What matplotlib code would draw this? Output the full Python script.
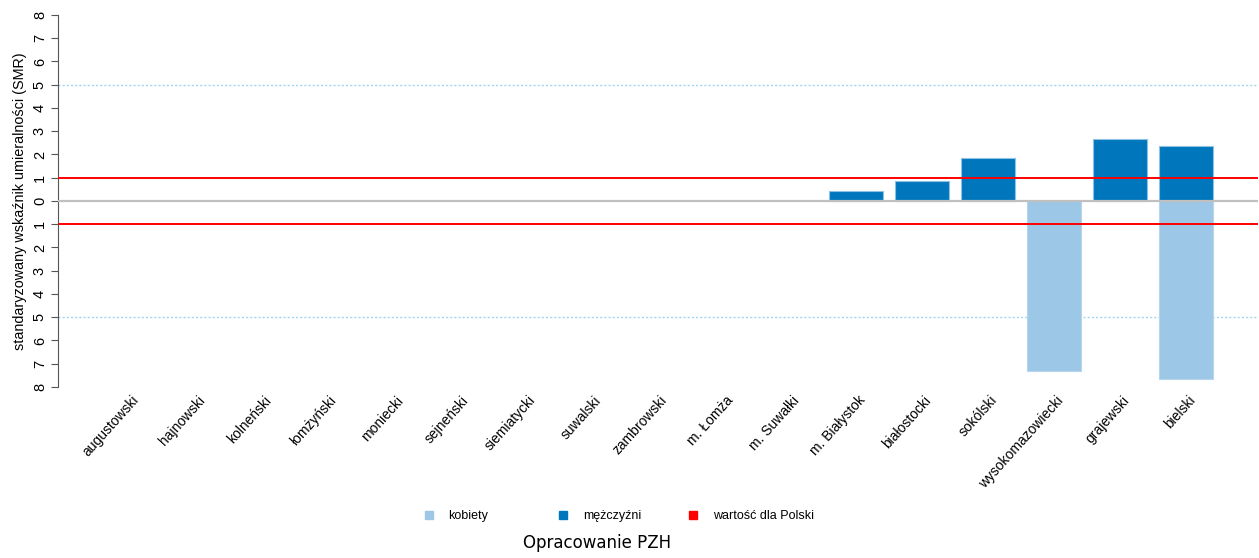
import numpy as np
import matplotlib
matplotlib.use('Agg')
import matplotlib.pyplot as plt
import matplotlib.transforms as mtransforms
from matplotlib.lines import Line2D

plt.rcParams['font.family'] = ['Liberation Sans', 'DejaVu Sans']

powiaty = ['augustowski', 'hajnowski', 'kolneński', 'łomżyński', 'moniecki',
           'sejneński', 'siemiatycki', 'suwalski', 'zambrowski', 'm. Łomża',
           'm. Suwałki', 'm. Białystok', 'białostocki', 'sokólski',
           'wysokomazowiecki', 'grajewski', 'bielski']
smr_kobiety = [0, 0, 0, 0, 0, 0, 0, 0, 0, 0, 0, 0, 0, 0, 7.33, 0, 7.64]
smr_mezczyzni = [0, 0, 0, 0, 0, 0, 0, 0, 0, 0, 0, 0.43, 0.86, 1.84, 0, 2.65, 2.35]
polska = 1.0

kol_k = '#9DC7E6'
kol_m = '#0077BD'

fig = plt.figure(figsize=(12.59, 5.58), dpi=100)
ax = fig.add_axes([0.0461, 0.3065, 0.953, 0.6667])

x = np.arange(len(powiaty))
k = np.array(smr_kobiety)
m = np.array(smr_mezczyzni)
ax.bar(x[k > 0], -k[k > 0], width=0.82, color=kol_k, edgecolor='#B5D6EE', linewidth=0.8, zorder=2)
ax.bar(x[m > 0], m[m > 0], width=0.82, color=kol_m, edgecolor='#8FC1E4', linewidth=0.8, zorder=2)

# linie pomocnicze
for g in (5, -5):
    ax.axhline(g, color='#9ED8EE', lw=1.0, ls=(0, (1.5, 1.5)), zorder=1)
ax.axhline(0, color='#C0C0C0', lw=1.6, zorder=3)
ax.axhline(polska, color='#FF0000', lw=1.4, zorder=4)
ax.axhline(-polska, color='#FF0000', lw=1.4, zorder=4)

ax.set_xlim(-1.08, len(powiaty) - 1 + 1.09)
ax.set_ylim(-8, 8)
for s in ['top', 'right', 'bottom']:
    ax.spines[s].set_visible(False)
ax.spines['left'].set_color('#555555')

yt = np.arange(-8, 9)
ax.set_yticks(yt)
ax.set_yticklabels([str(abs(v)) for v in yt], rotation=90, va='center', fontsize=10.5)
ax.tick_params(axis='y', length=5, color='#555555', pad=3)
ax.set_ylabel('standaryzowany wskaźnik umieralności (SMR)', fontsize=10.4, labelpad=4)

ax.set_xticks(x)
ax.set_xticklabels(powiaty, rotation=48, ha='right', va='top', rotation_mode='anchor', fontsize=10)
ax.tick_params(axis='x', length=0, pad=4.5)
przesun = mtransforms.ScaledTranslation(2 / 100, 0, fig.dpi_scale_trans)
for lab in ax.get_xticklabels():
    lab.set_transform(lab.get_transform() + przesun)

# legenda
wpisy = [('kobiety', kol_k, 0.3255), ('mężczyźni', kol_m, 0.4325), ('wartość dla Polski', '#FF0000', 0.5355)]
for tekst, kol, xp in wpisy:
    uchwyt = Line2D([], [], marker='s', color=kol, ls='none', markersize=6)
    fig.legend([uchwyt], [tekst], loc='center left', bbox_to_anchor=(xp, 0.075),
               frameon=False, fontsize=9, handletextpad=0.6, borderpad=0)

fig.text(0.474, 0.027, 'Opracowanie PZH', ha='center', va='center', fontsize=12,
         family='DejaVu Sans')

fig.savefig('out.png', dpi=100)
